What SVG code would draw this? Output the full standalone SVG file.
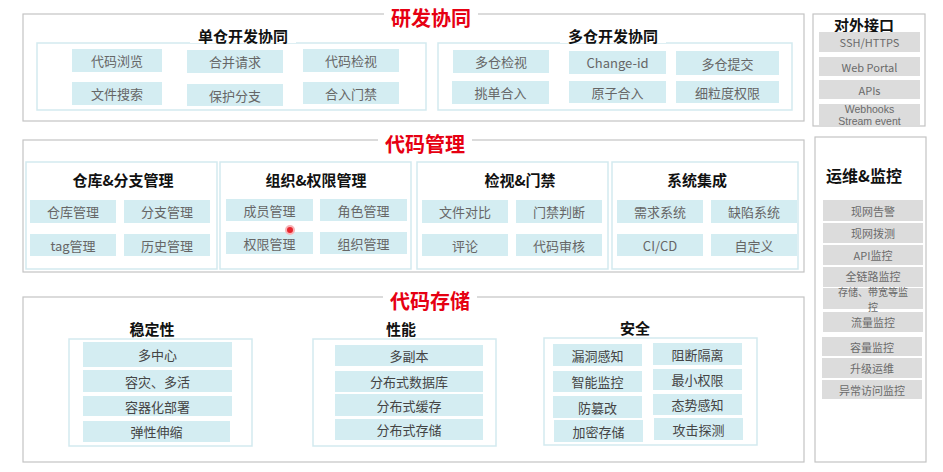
<svg xmlns="http://www.w3.org/2000/svg" width="943" height="472" viewBox="0 0 943 472">
<style>
text{font-family:"Noto Sans CJK SC","Liberation Sans",sans-serif;text-anchor:middle;dominant-baseline:central}
.outer{fill:#fff;stroke:#c4c4c4;stroke-width:1.2}
.inner{fill:#fff;stroke:#d3eaef;stroke-width:1.5}
.cell{fill:#d4edf2}
.gcell{fill:#dcdcdc}
.sec{fill:#e60012;font-size:20px;font-weight:bold}
.sub{fill:#111;font-size:15px;font-weight:bold}
.ct{fill:#666;font-size:13px}
.bt{fill:#444;font-size:13px}
.gt{fill:#6a6a6a;font-size:11px}
.lt{fill:#6a6a6a;font-size:10.5px;font-family:"Liberation Sans",sans-serif}
.tbg{fill:#fff}
</style>
<rect width="943" height="472" fill="#fff"/>

<!-- 研发协同 -->
<g id="sec-rd">
<rect class="outer" x="23" y="14" width="781" height="107"/>
<rect class="tbg" x="384" y="4" width="94" height="22"/>
<text class="sec" x="431" y="17">研发协同</text>
</g>
<g id="single-repo">
<rect class="inner" x="37" y="43" width="389" height="67"/>
<rect class="tbg" x="190" y="26" width="106" height="17"/>
<text class="sub" x="243" y="35">单仓开发协同</text>
<rect class="cell" x="72" y="49" width="90" height="23"/><text class="ct" x="117" y="60.5">代码浏览</text>
<rect class="cell" x="187" y="50" width="96" height="23"/><text class="ct" x="235" y="61.5">合并请求</text>
<rect class="cell" x="303" y="49" width="96" height="23"/><text class="ct" x="351" y="60.5">代码检视</text>
<rect class="cell" x="72" y="82" width="90" height="23"/><text class="ct" x="117" y="93.5">文件搜索</text>
<rect class="cell" x="187" y="84" width="96" height="22"/><text class="ct" x="235" y="95">保护分支</text>
<rect class="cell" x="303" y="82" width="96" height="22"/><text class="ct" x="351" y="93">合入门禁</text>
</g>
<g id="multi-repo">
<rect class="inner" x="438" y="43" width="354" height="67"/>
<rect class="tbg" x="560" y="26" width="106" height="17"/>
<text class="sub" x="613" y="35">多仓开发协同</text>
<rect class="cell" x="453" y="50" width="96" height="23"/><text class="ct" x="501" y="61.5">多仓检视</text>
<rect class="cell" x="569" y="51" width="97" height="23"/><text class="ct" x="617.5" y="62.5">Change-id</text>
<rect class="cell" x="676" y="51" width="103" height="24"/><text class="ct" x="727.5" y="63">多仓提交</text>
<rect class="cell" x="452" y="81" width="97" height="23"/><text class="ct" x="500.5" y="92.5">挑单合入</text>
<rect class="cell" x="569" y="81" width="97" height="22"/><text class="ct" x="617.5" y="92">原子合入</text>
<rect class="cell" x="676" y="81" width="103" height="22"/><text class="ct" x="727.5" y="92">细粒度权限</text>
</g>

<!-- 对外接口 -->
<g id="external-api">
<rect class="outer" x="813" y="14" width="112" height="112"/>
<text class="sub" x="864" y="24" style="font-size:15px">对外接口</text>
<rect class="gcell" x="819" y="32" width="101" height="20"/><text class="gt" x="869.5" y="42">SSH/HTTPS</text>
<rect class="gcell" x="819" y="57" width="101" height="19"/><text class="gt" x="869.5" y="66.5">Web Portal</text>
<rect class="gcell" x="819" y="80" width="101" height="19"/><text class="gt" x="869.5" y="89.5">APIs</text>
<rect class="gcell" x="819" y="104" width="101" height="21"/><text class="lt" x="869.5" y="108.5">Webhooks</text><text class="lt" x="869.5" y="121">Stream event</text>
</g>

<!-- 代码管理 -->
<g id="sec-mgmt">
<rect class="outer" x="23" y="140" width="781" height="132"/>
<rect class="tbg" x="378" y="131" width="94" height="22"/>
<text class="sec" x="425" y="143">代码管理</text>
</g>
<g id="repo-branch">
<rect class="inner" x="26" y="162" width="191" height="107"/>
<text class="sub" x="123" y="179">仓库&amp;分支管理</text>
<rect class="cell" x="30" y="200" width="86" height="23"/><text class="ct" x="73" y="211.5">仓库管理</text>
<rect class="cell" x="124" y="200" width="86" height="23"/><text class="ct" x="167" y="211.5">分支管理</text>
<rect class="cell" x="30" y="234" width="86" height="22"/><text class="ct" x="73" y="245">tag管理</text>
<rect class="cell" x="124" y="234" width="86" height="22"/><text class="ct" x="167" y="245">历史管理</text>
</g>
<g id="org-perm">
<rect class="inner" x="220" y="162" width="191" height="107"/>
<text class="sub" x="316" y="179">组织&amp;权限管理</text>
<rect class="cell" x="226" y="199" width="87" height="22"/><text class="ct" x="269.5" y="210">成员管理</text>
<rect class="cell" x="320" y="199" width="87" height="22"/><text class="ct" x="363.5" y="210">角色管理</text>
<rect class="cell" x="226" y="232" width="87" height="22"/><text class="ct" x="269.5" y="243">权限管理</text>
<rect class="cell" x="320" y="232" width="87" height="22"/><text class="ct" x="363.5" y="243">组织管理</text>
<circle cx="290" cy="230" r="4" fill="#e8262e" stroke="#f7b3b6" stroke-width="2"/>
</g>
<g id="review-gate">
<rect class="inner" x="417" y="162" width="191" height="107"/>
<text class="sub" x="520" y="179">检视&amp;门禁</text>
<rect class="cell" x="422" y="200" width="86" height="23"/><text class="ct" x="465" y="211.5">文件对比</text>
<rect class="cell" x="516" y="200" width="86" height="23"/><text class="ct" x="559" y="211.5">门禁判断</text>
<rect class="cell" x="422" y="234" width="86" height="22"/><text class="ct" x="465" y="245">评论</text>
<rect class="cell" x="516" y="234" width="86" height="22"/><text class="ct" x="559" y="245">代码审核</text>
</g>
<g id="sys-integration">
<rect class="inner" x="612" y="162" width="186" height="107"/>
<text class="sub" x="697" y="179">系统集成</text>
<rect class="cell" x="617" y="200" width="86" height="23"/><text class="ct" x="660" y="211.5">需求系统</text>
<rect class="cell" x="711" y="200" width="86" height="23"/><text class="ct" x="754" y="211.5">缺陷系统</text>
<rect class="cell" x="617" y="234" width="86" height="22"/><text class="ct" x="660" y="245">CI/CD</text>
<rect class="cell" x="711" y="234" width="86" height="22"/><text class="ct" x="754" y="245">自定义</text>
</g>

<!-- 运维&监控 -->
<g id="ops-monitor">
<rect class="outer" x="815" y="137" width="111" height="325"/>
<text class="sub" x="864" y="175" style="font-size:16px">运维&amp;监控</text>
<rect class="gcell" x="823" y="200" width="100" height="21"/><text class="gt" x="873" y="210.5">现网告警</text>
<rect class="gcell" x="823" y="223" width="100" height="20"/><text class="gt" x="873" y="233">现网拨测</text>
<rect class="gcell" x="823" y="245" width="100" height="20"/><text class="gt" x="873" y="255">API监控</text>
<rect class="gcell" x="823" y="267" width="100" height="20"/><text class="gt" x="873" y="275.5">全链路监控</text>
<rect class="gcell" x="823" y="288" width="100" height="21"/><text class="gt" x="873" y="291.5" style="font-size:10px">存储、带宽等监</text><text class="gt" x="873" y="306.3" style="font-size:10px">控</text>
<rect class="gcell" x="823" y="312" width="100" height="20"/><text class="gt" x="873" y="322.2">流量监控</text>
<rect class="gcell" x="822" y="337" width="100" height="19"/><text class="gt" x="872" y="346.5">容量监控</text>
<rect class="gcell" x="822" y="358" width="100" height="20"/><text class="gt" x="872" y="368">升级运维</text>
<rect class="gcell" x="822" y="380" width="100" height="19"/><text class="gt" x="872" y="389.5">异常访问监控</text>
</g>

<!-- 代码存储 -->
<g id="sec-storage">
<rect class="outer" x="23" y="297" width="781" height="165"/>
<rect class="tbg" x="383" y="288" width="94" height="22"/>
<text class="sec" x="430" y="300">代码存储</text>
</g>
<g id="stability">
<text class="sub" x="152" y="328">稳定性</text>
<rect class="inner" x="69" y="339" width="183" height="107"/>
<rect class="cell" x="83" y="342" width="149" height="25"/><text class="bt" x="157.5" y="354.5">多中心</text>
<rect class="cell" x="83" y="370" width="149" height="22"/><text class="bt" x="157.5" y="381">容灾、多活</text>
<rect class="cell" x="83" y="396" width="149" height="20"/><text class="bt" x="157.5" y="406">容器化部署</text>
<rect class="cell" x="83" y="421" width="147" height="21"/><text class="bt" x="156.5" y="431.5">弹性伸缩</text>
</g>
<g id="performance">
<text class="sub" x="401" y="328">性能</text>
<rect class="inner" x="313" y="339" width="183" height="107"/>
<rect class="cell" x="335" y="345" width="148" height="21"/><text class="bt" x="409" y="355.5">多副本</text>
<rect class="cell" x="335" y="371" width="148" height="21"/><text class="bt" x="409" y="381.5">分布式数据库</text>
<rect class="cell" x="335" y="394" width="148" height="22"/><text class="bt" x="409" y="405">分布式缓存</text>
<rect class="cell" x="335" y="419" width="148" height="21"/><text class="bt" x="409" y="429.5">分布式存储</text>
</g>
<g id="security">
<text class="sub" x="635" y="327">安全</text>
<rect class="inner" x="544" y="338" width="213" height="107"/>
<rect class="cell" x="553" y="344" width="89" height="22"/><text class="bt" x="597.5" y="355">漏洞感知</text>
<rect class="cell" x="553" y="371" width="89" height="21"/><text class="bt" x="597.5" y="381.5">智能监控</text>
<rect class="cell" x="553" y="396" width="89" height="22"/><text class="bt" x="597.5" y="407">防篡改</text>
<rect class="cell" x="554" y="420" width="89" height="22"/><text class="bt" x="598.5" y="431">加密存储</text>
<rect class="cell" x="653" y="343" width="89" height="22"/><text class="bt" x="697.5" y="354">阻断隔离</text>
<rect class="cell" x="653" y="369" width="89" height="21"/><text class="bt" x="697.5" y="379.5">最小权限</text>
<rect class="cell" x="653" y="394" width="89" height="21"/><text class="bt" x="697.5" y="404.5">态势感知</text>
<rect class="cell" x="654" y="418" width="89" height="22"/><text class="bt" x="698.5" y="429">攻击探测</text>
</g>
<g id="connectors"></g>
</svg>
